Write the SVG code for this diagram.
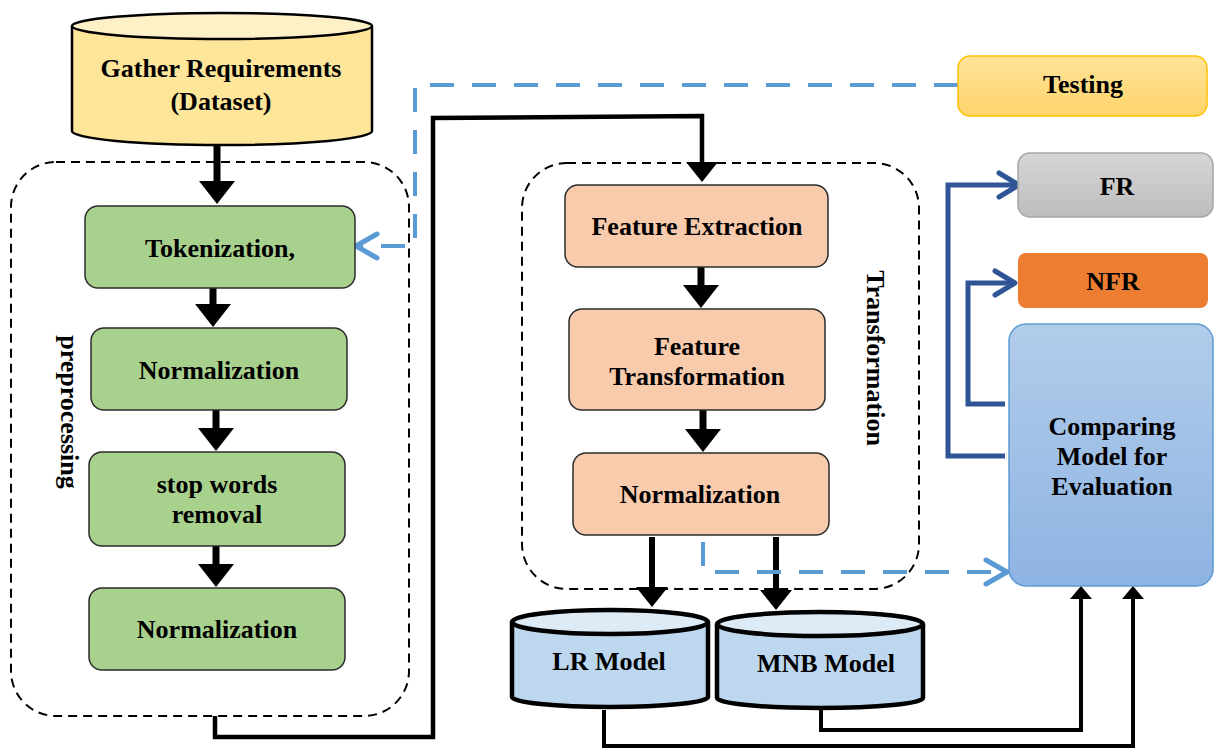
<svg xmlns="http://www.w3.org/2000/svg" width="1214" height="750" viewBox="0 0 1214 750">
<style>
text{font-family:"Liberation Serif","Times New Roman",serif;font-weight:bold;font-size:26px;fill:#000;text-anchor:middle}
.grp{fill:none;stroke:#000;stroke-width:2;stroke-dasharray:9 6}
.green{fill:#A9D18E;stroke:#2b2b2b;stroke-width:1.5}
.peach{fill:#F8CBAD;stroke:#2b2b2b;stroke-width:1.5}
.blk{fill:none;stroke:#000;stroke-linejoin:miter}
.bdash{fill:none;stroke:#5B9BD5;stroke-width:4;stroke-dasharray:24 18}
.dblue{fill:none;stroke:#2F5597;stroke-width:5}
</style>
<defs>
<linearGradient id="gTest" x1="0" y1="0" x2="0" y2="1"><stop offset="0" stop-color="#FFE398"/><stop offset="1" stop-color="#FFD46A"/></linearGradient>
<linearGradient id="gFR" x1="0" y1="0" x2="0" y2="1"><stop offset="0" stop-color="#D6D6D6"/><stop offset="1" stop-color="#BDBDBD"/></linearGradient>
<linearGradient id="gCmp" x1="0" y1="0" x2="0" y2="1"><stop offset="0" stop-color="#B2CCEA"/><stop offset="1" stop-color="#8EB4E3"/></linearGradient>
<marker id="aBig" markerUnits="userSpaceOnUse" viewBox="0 0 23 36" refX="1" refY="18" markerWidth="23" markerHeight="36" orient="auto"><path d="M0,0 L23,18 L0,36 Z" fill="#000"/></marker>
<marker id="aMid" markerUnits="userSpaceOnUse" viewBox="0 0 20 32" refX="1" refY="16" markerWidth="20" markerHeight="32" orient="auto"><path d="M0,0 L20,16 L0,32 Z" fill="#000"/></marker>
<marker id="aSmall" markerUnits="userSpaceOnUse" viewBox="0 0 13 22" refX="1" refY="11" markerWidth="13" markerHeight="22" orient="auto"><path d="M0,0 L13,11 L0,22 Z" fill="#000"/></marker>
<marker id="chevL" markerUnits="userSpaceOnUse" viewBox="-26 -16 30 32" refX="0" refY="0" markerWidth="30" markerHeight="32" orient="auto"><path d="M-21,-12 L0,0 L-21,12" fill="none" stroke="#5B9BD5" stroke-width="5" stroke-linecap="round" stroke-linejoin="round"/></marker>
<marker id="chevD" markerUnits="userSpaceOnUse" viewBox="-26 -16 30 32" refX="0" refY="0" markerWidth="30" markerHeight="32" orient="auto"><path d="M-20,-12 L0,0 L-20,12" fill="none" stroke="#2F5597" stroke-width="5" stroke-linecap="round" stroke-linejoin="round"/></marker>
</defs>

<g id="group-preprocessing">
<rect class="grp" x="11" y="162" width="398" height="554" rx="45"/>
<text transform="translate(61,412) rotate(90)">preprocessing</text>
</g>
<g id="group-transformation">
<rect class="grp" x="522" y="163" width="397" height="426" rx="45"/>
<text transform="translate(867,358) rotate(90)">Transformation</text>
</g>

<g id="connectors">
<line class="blk" x1="217" y1="145" x2="217" y2="182" stroke-width="7" marker-end="url(#aBig)"/>
<line class="blk" x1="213" y1="288" x2="213" y2="305" stroke-width="7" marker-end="url(#aBig)"/>
<line class="blk" x1="216" y1="410" x2="216" y2="429" stroke-width="7" marker-end="url(#aBig)"/>
<line class="blk" x1="216" y1="546" x2="216" y2="565" stroke-width="7" marker-end="url(#aBig)"/>
<line class="blk" x1="701" y1="267" x2="701" y2="286" stroke-width="7" marker-end="url(#aBig)"/>
<line class="blk" x1="703" y1="410" x2="703" y2="430" stroke-width="7" marker-end="url(#aBig)"/>
<polyline class="blk" points="215,716 215,737 433,737 433,118 702,116 702,163" stroke-width="4.5" marker-end="url(#aMid)"/>
<line class="blk" x1="652" y1="537" x2="652" y2="588" stroke-width="6" marker-end="url(#aMid)"/>
<line class="blk" x1="776" y1="537" x2="776" y2="591" stroke-width="6" marker-end="url(#aMid)"/>
<polyline class="blk" points="604,710 604,746 1133,746 1133,598" stroke-width="4" marker-end="url(#aSmall)"/>
<polyline class="blk" points="821,710 821,730 1081,730 1081,598" stroke-width="4" marker-end="url(#aSmall)"/>
<polyline class="bdash" points="958,85 415,85 415,246 356,246" marker-end="url(#chevL)"/>
<polyline class="bdash" points="703,542 703,572 1007,572" marker-end="url(#chevL)"/>
<polyline class="dblue" points="1005,456 948,456 948,185 1019,185" marker-end="url(#chevD)"/>
<polyline class="dblue" points="1005,404 968,404 968,283 1015,283" marker-end="url(#chevD)"/>
</g>

<g id="gather">
<path d="M72,26 V131 A150,14 0 0 0 372,131 V26" fill="#FDE59A" stroke="#000" stroke-width="2.5"/>
<ellipse cx="222" cy="26" rx="150" ry="13" fill="#FEF1C8" stroke="#000" stroke-width="2.5"/>
<text x="221" y="77">Gather Requirements</text>
<text x="221" y="110">(Dataset)</text>
</g>

<g id="tokenization"><rect class="green" x="85" y="206" width="270" height="82" rx="13"/><text x="220" y="257">Tokenization,</text></g>
<g id="normalization-1"><rect class="green" x="91" y="328" width="256" height="82" rx="13"/><text x="219" y="379">Normalization</text></g>
<g id="stopwords"><rect class="green" x="89" y="452" width="256" height="94" rx="13"/><text x="217" y="493">stop words</text><text x="217" y="523">removal</text></g>
<g id="normalization-2"><rect class="green" x="89" y="588" width="256" height="82" rx="13"/><text x="217" y="638">Normalization</text></g>

<g id="feature-extraction"><rect class="peach" x="565" y="185" width="263" height="82" rx="13"/><text x="697" y="235">Feature Extraction</text></g>
<g id="feature-transformation"><rect class="peach" x="569" y="309" width="256" height="101" rx="13"/><text x="697" y="355">Feature</text><text x="697" y="385">Transformation</text></g>
<g id="normalization-3"><rect class="peach" x="573" y="453" width="256" height="82" rx="13"/><text x="700" y="503">Normalization</text></g>

<g id="lr-model">
<path d="M512,622 V697 A98,10 0 0 0 708,697 V622" fill="#BDD7EE" stroke="#000" stroke-width="4.5"/>
<ellipse cx="610" cy="622" rx="98" ry="12" fill="#DDEBF7" stroke="#000" stroke-width="4.5"/>
<text x="609" y="670">LR Model</text>
</g>
<g id="mnb-model">
<path d="M717,624 V698 A103,10 0 0 0 923,698 V624" fill="#BDD7EE" stroke="#000" stroke-width="4.5"/>
<ellipse cx="820" cy="624" rx="103" ry="12" fill="#DDEBF7" stroke="#000" stroke-width="4.5"/>
<text x="826" y="672">MNB Model</text>
</g>

<g id="testing"><rect x="958" y="56" width="249" height="60" rx="12" fill="url(#gTest)" stroke="#FFC000" stroke-width="1.5"/><text x="1083" y="93">Testing</text></g>
<g id="fr"><rect x="1018" y="153" width="195" height="64" rx="12" fill="url(#gFR)" stroke="#A5A5A5" stroke-width="1.5"/><text x="1117" y="195">FR</text></g>
<g id="nfr"><rect x="1018" y="253" width="190" height="55" rx="8" fill="#ED7D31"/><text x="1113" y="290">NFR</text></g>
<g id="comparing"><rect x="1009" y="324" width="204" height="262" rx="17" fill="url(#gCmp)" stroke="#5B9BD5" stroke-width="1.5"/>
<text x="1112" y="435">Comparing</text><text x="1112" y="465">Model for</text><text x="1112" y="495">Evaluation</text></g>
</svg>
